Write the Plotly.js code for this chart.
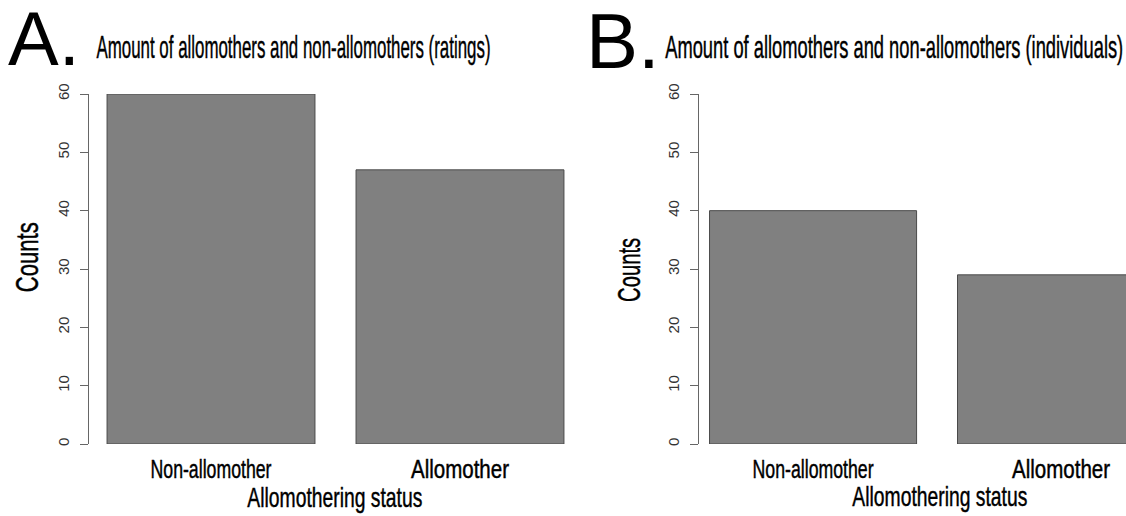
<!DOCTYPE html>
<html>
<head>
<meta charset="utf-8">
<script src="https://cdn.plot.ly/plotly-3.0.1.min.js"></script>
<style>
  html, body { margin: 0; padding: 0; background: #ffffff; }
  #chart { width: 1126px; height: 516px; }
</style>
</head>
<body>
<div id="chart"></div>
<script>
// Allomothering status counts, two panels
const categories = ['Non-allomother', 'Allomother'];
const ratingsCounts = [60, 47];
const individualsCounts = [40, 29];
const panelLetters = ['A.', 'B.'];
const panelTitles = [
  'Amount of allomothers and non-allomothers (ratings)',
  'Amount of allomothers and non-allomothers (individuals)'
];
const xTitle = 'Allomothering status';
const yTitle = 'Counts';

const W = 1126, H = 516;
const px = v => v / W;          // pixel x -> paper
const py = v => 1 - v / H;      // pixel y -> paper

const FONT = 'Liberation Sans, Arial, sans-serif';
const barFill = '#808080';
const barEdge = '#4a4a4a';
const axisGrey = '#666666';

function barTrace(values, xa, ya) {
  return {
    type: 'bar',
    x: categories,
    y: values,
    xaxis: xa,
    yaxis: ya,
    width: 0.835,
    marker: { color: barFill, line: { color: barEdge, width: 1 } },
    hoverinfo: 'x+y',
    showlegend: false
  };
}

function yAxis() {
  return {
    domain: [py(444), py(94)],
    range: [0, 60],
    dtick: 10,
    tick0: 0,
    showgrid: false,
    zeroline: false,
    showline: true,
    linecolor: axisGrey,
    linewidth: 1,
    ticks: 'outside',
    ticklen: 8,
    tickwidth: 1,
    tickcolor: axisGrey,
    tickangle: -90,
    ticklabelstandoff: 5,
    tickfont: { family: FONT, size: 15, color: '#333333' },
    fixedrange: true
  };
}

function xAxis(domain, range, anchor) {
  return {
    domain: domain,
    range: range,
    type: 'category',
    anchor: anchor,
    showgrid: false,
    zeroline: false,
    showline: false,
    ticks: '',
    ticklabelstandoff: 8,
    tickfont: { family: FONT, size: 25, color: '#000000' },
    fixedrange: true
  };
}

// condensed text widths (px) for the narrow-face look
const condensed = [];

function ann(text, x, y, size, opts) {
  return Object.assign({
    text: text,
    xref: 'paper', yref: 'paper',
    x: px(x), y: py(y),
    xanchor: 'center', yanchor: 'middle',
    showarrow: false,
    font: { family: FONT, size: size, color: '#000000' }
  }, opts || {});
}

const annotations = [];
function addAnn(a, width) {
  annotations.push(a);
  condensed.push(width || null);
}

addAnn(ann(panelLetters[0], 44, 38, 76));
addAnn(ann(panelLetters[1], 623, 41, 78));
addAnn(ann(panelTitles[0], 293, 47, 32), 394);
addAnn(ann(panelTitles[1], 894, 47, 32), 458);
addAnn(ann(yTitle, 27, 258, 32, { textangle: -90 }), 70);
addAnn(ann(yTitle, 629, 270, 31, { textangle: -90 }), 64);
addAnn(ann(xTitle, 335, 497, 28), 175);
addAnn(ann(xTitle, 940, 496, 28), 175);

const tickWidths = { 'Non-allomother': 121, 'Allomother': 98 };

const data = [
  barTrace(ratingsCounts, 'x', 'y'),
  barTrace(individualsCounts, 'x2', 'y2')
];

const layout = {
  width: W,
  height: H,
  margin: { l: 0, r: 0, t: 0, b: 0, pad: 0 },
  paper_bgcolor: '#ffffff',
  plot_bgcolor: '#ffffff',
  showlegend: false,
  bargap: 0,
  xaxis: xAxis([px(89), px(582)], [-0.49, 1.49], 'y'),
  yaxis: Object.assign(yAxis(), { anchor: 'x' }),
  xaxis2: xAxis([px(699), 1], [-0.46, 1.262], 'y2'),
  yaxis2: Object.assign(yAxis(), { anchor: 'x2' }),
  annotations: annotations
};

// narrow, slightly heavier lettering
function squeeze(el, width) {
  if (!el || !width) return;
  el.setAttribute('textLength', width);
  el.setAttribute('lengthAdjust', 'spacingAndGlyphs');
  el.style.stroke = '#000000';
  el.style.strokeWidth = '0.45px';
}

Plotly.newPlot('chart', data, layout, { staticPlot: true, displayModeBar: false, responsive: false })
  .then(gd => {
    gd.querySelectorAll('g.annotation').forEach(g => {
      const i = +g.getAttribute('data-index');
      squeeze(g.querySelector('text.annotation-text'), condensed[i]);
    });
    gd.querySelectorAll('g.xtick text, g.x2tick text').forEach(t => {
      squeeze(t, tickWidths[t.textContent]);
    });
  });
</script>
</body>
</html>
